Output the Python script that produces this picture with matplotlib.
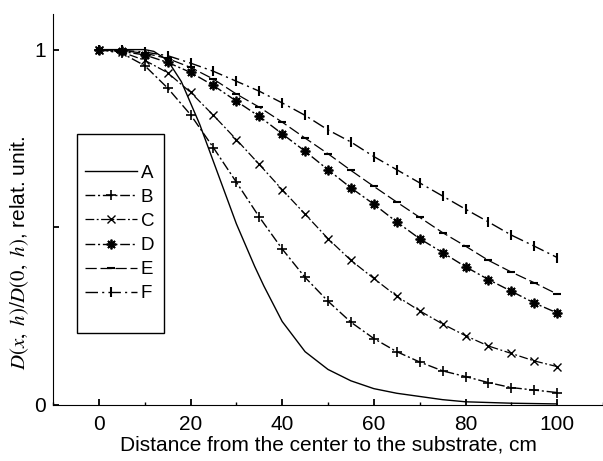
import matplotlib
matplotlib.use("Agg")
import matplotlib.pyplot as plt
from matplotlib.patches import Rectangle
from matplotlib.ticker import MultipleLocator

plt.rcParams['font.family'] = ['Liberation Sans', 'DejaVu Sans']
plt.rcParams['mathtext.fontset'] = 'stix'

# distance, cm
x_a = [0, 5, 10, 12, 15, 18, 20, 22, 24, 26, 28, 30, 32, 34, 36, 38, 40,
       45, 50, 55, 60, 65, 70, 75, 80, 90, 100]
x_m = [0, 5, 10, 15, 20, 25, 30, 35, 40, 45, 50, 55, 60, 65, 70, 75, 80,
       85, 90, 95, 100]

a = [1, 1, 1, 0.995, 0.97, 0.91, 0.85, 0.79, 0.72, 0.65, 0.58, 0.51, 0.45,
     0.39, 0.335, 0.285, 0.235, 0.150, 0.100, 0.068, 0.046, 0.033, 0.024,
     0.015, 0.009, 0.005, 0.003]
b = [1, 0.99, 0.955, 0.892, 0.817, 0.724, 0.627, 0.529, 0.439, 0.359, 0.292,
     0.233, 0.187, 0.150, 0.121, 0.096, 0.080, 0.063, 0.049, 0.042, 0.035]
c = [1, 0.993, 0.97, 0.935, 0.880, 0.815, 0.747, 0.677, 0.606, 0.537, 0.468,
     0.407, 0.356, 0.306, 0.265, 0.228, 0.195, 0.166, 0.145, 0.124, 0.108]
d = [1, 0.995, 0.985, 0.964, 0.936, 0.899, 0.855, 0.812, 0.763, 0.714, 0.662,
     0.611, 0.565, 0.515, 0.468, 0.429, 0.389, 0.353, 0.320, 0.287, 0.259]
e = [1, 0.997, 0.99, 0.975, 0.95, 0.917, 0.875, 0.838, 0.796, 0.751, 0.707,
     0.660, 0.615, 0.571, 0.528, 0.485, 0.447, 0.407, 0.374, 0.344, 0.312]
f = [1, 0.998, 0.993, 0.983, 0.962, 0.939, 0.911, 0.883, 0.85, 0.815, 0.774,
     0.740, 0.699, 0.662, 0.625, 0.588, 0.551, 0.515, 0.478, 0.447, 0.415]

fig = plt.figure(figsize=(6.03, 4.61), dpi=100)
ax = fig.add_axes([0.0879, 0.1215, 0.9121, 0.848])

dashdot = (0, (7, 2, 1.5, 2))
ax.plot(x_a, a, '-', color='black', lw=1.0, label='A')
ax.plot(x_m, b, marker='+', ms=7, mew=1.2, ls=dashdot, color='black', lw=1.0, label='B')
ax.plot(x_m, c, marker='x', ms=6, mew=1.0, ls=dashdot, color='black', lw=0.9, label='C')
ax.plot(x_m, d, marker=(8, 2, 0), ms=7, mew=1.3, ls=dashdot, color='black', lw=1.0, label='D')
ax.plot(x_m, e, marker='_', ms=6, mew=1.5, ls=(0, (9, 3)), color='black', lw=0.9, label='E')
ax.plot(x_m, f, marker='|', ms=7, mew=1.5, ls=(0, (9, 3, 1.5, 3)), color='black', lw=1.0, label='F')

ax.set_xlim(-10, 110)
ax.set_ylim(0, 1.1)
ax.spines['top'].set_visible(False)
ax.spines['right'].set_visible(False)
ax.set_xticks([0, 20, 40, 60, 80, 100])
ax.xaxis.set_minor_locator(MultipleLocator(10))
ax.set_yticks([0, 0.5, 1], ['0', '', '1'])
ax.tick_params(direction='in', length=4, width=1.3, labelsize=15, pad=7)
ax.tick_params(which='minor', direction='in', length=2, width=1.0)
ax.tick_params(axis='y', pad=5)

ax.set_xlabel('Distance from the center to the substrate, cm', fontsize=15, labelpad=1)
ax.set_ylabel(r'$D(x,\ h)/D(0,\ h)$, relat. unit.', fontsize=15)
ax.yaxis.set_label_coords(-0.04, 0.39)

leg = ax.legend(loc='center left', bbox_to_anchor=(0.058, 0.4386), frameon=False,
                fontsize=13.5, handlelength=2.77, handletextpad=0.2,
                labelspacing=0.37, borderpad=0, borderaxespad=0, numpoints=1)
ax.add_patch(Rectangle((0.0436, 0.184), 0.158, 0.509, transform=ax.transAxes,
                       fill=False, edgecolor='black', lw=1.0, zorder=5))

fig.savefig('out.png', dpi=100)
